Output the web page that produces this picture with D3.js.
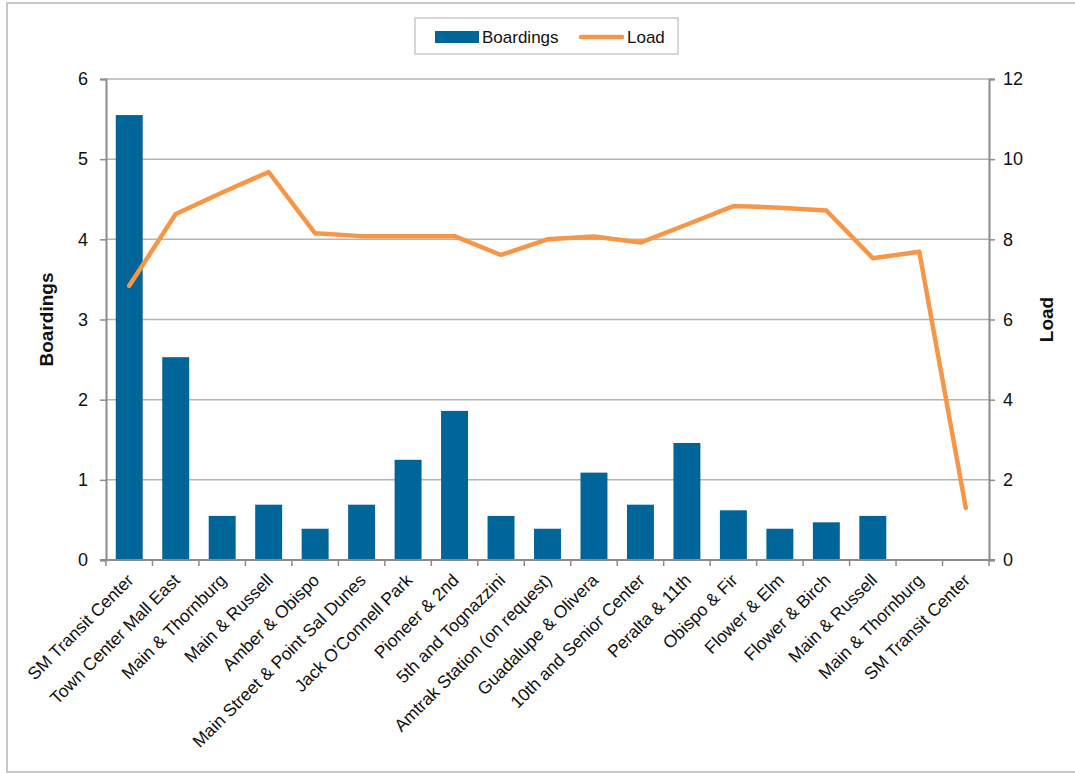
<!DOCTYPE html>
<html>
<head>
<meta charset="utf-8">
<script src="https://cdn.jsdelivr.net/npm/d3@7"></script>
<style>
  html, body { margin: 0; padding: 0; background: #fff; }
  svg { display: block; font-family: "Liberation Sans", Arial, sans-serif; }
</style>
</head>
<body>
<svg id="chart" width="1075" height="773"></svg>
<script>
// Stops along the route, in order of travel
const stops = [
  "SM Transit Center", "Town Center Mall East", "Main & Thornburg", "Main & Russell",
  "Amber & Obispo", "Main Street & Point Sal Dunes", "Jack O'Connell Park", "Pioneer & 2nd",
  "5th and Tognazzini", "Amtrak Station (on request)", "Guadalupe & Olivera",
  "10th and Senior Center", "Peralta & 11th", "Obispo & Fir", "Flower & Elm",
  "Flower & Birch", "Main & Russell", "Main & Thornburg", "SM Transit Center"
];
// Average boardings per stop (left axis)
const boardings = [5.55, 2.53, 0.55, 0.69, 0.39, 0.69, 1.25, 1.86, 0.55, 0.39,
                   1.09, 0.69, 1.46, 0.62, 0.39, 0.47, 0.55, 0, 0];
// Passenger load leaving each stop (right axis)
const load = [6.84, 8.63, 9.17, 9.68, 8.15, 8.08, 8.08, 8.08, 7.61, 8.0,
              8.07, 7.92, 8.37, 8.83, 8.79, 8.72, 7.53, 7.69, 1.3];
const leftTicks = [0, 1, 2, 3, 4, 5, 6];
const rightTicks = [0, 2, 4, 6, 8, 10, 12];

const barColor = "#006699";
const lineColor = "#F79646";
const gridColor = "#b4b4b4";
const axisColor = "#8c8c8c";

const svg = d3.select("#chart");
const plot = { left: 106, right: 989, top: 79, bottom: 560 };

// Outer chart frame
svg.append("rect")
  .attr("x", 7).attr("y", 3).attr("width", 1080).attr("height", 769)
  .attr("fill", "none").attr("stroke", "#c8c8c8").attr("stroke-width", 2);

// Scales
const x = d3.scaleBand()
  .domain(d3.range(stops.length))
  .range([plot.left, plot.right])
  .paddingInner(0.42).paddingOuter(0.21);
const yL = d3.scaleLinear().domain([0, 6]).range([plot.bottom, plot.top]);
const yR = d3.scaleLinear().domain([0, 12]).range([plot.bottom, plot.top]);

// Horizontal gridlines
svg.append("g")
  .selectAll("line")
  .data(leftTicks.slice(1))
  .join("line")
  .attr("x1", plot.left).attr("x2", plot.right)
  .attr("y1", d => yL(d)).attr("y2", d => yL(d))
  .attr("stroke", gridColor).attr("stroke-width", 1.5);

// Bars
svg.append("g")
  .selectAll("rect")
  .data(boardings)
  .join("rect")
  .attr("x", (d, i) => x(i))
  .attr("width", x.bandwidth())
  .attr("y", d => yL(d))
  .attr("height", d => plot.bottom - yL(d))
  .attr("fill", barColor);

// Load line
const line = d3.line()
  .x((d, i) => x(i) + x.bandwidth() / 2)
  .y(d => yR(d));
svg.append("path")
  .datum(load)
  .attr("d", line)
  .attr("fill", "none")
  .attr("stroke", lineColor)
  .attr("stroke-width", 4.5)
  .attr("stroke-linejoin", "round")
  .attr("stroke-linecap", "round");

// Left axis
const gL = svg.append("g")
  .attr("transform", `translate(${plot.left},0)`)
  .call(d3.axisLeft(yL).tickValues(leftTicks).tickSize(6).tickPadding(12).tickFormat(d3.format("d")));
// Right axis
const gR = svg.append("g")
  .attr("transform", `translate(${plot.right},0)`)
  .call(d3.axisRight(yR).tickValues(rightTicks).tickSize(6).tickPadding(8).tickFormat(d3.format("d")));
[gL, gR].forEach(g => {
  g.select(".domain").attr("stroke", axisColor).attr("stroke-width", 2);
  g.selectAll(".tick line").attr("stroke", axisColor).attr("stroke-width", 1.5);
  g.selectAll(".tick text").attr("font-size", 18).attr("fill", "#111")
    .attr("font-family", "Liberation Sans, Arial, sans-serif");
});

// Category axis: boundary ticks and rotated stop names
const gX = svg.append("g");
gX.append("line")
  .attr("x1", plot.left - 6).attr("x2", plot.right + 6)
  .attr("y1", plot.bottom).attr("y2", plot.bottom)
  .attr("stroke", axisColor).attr("stroke-width", 2);
const step = x.step();
const edge0 = x(0) - (step - x.bandwidth()) / 2;
gX.selectAll("line.tk")
  .data(d3.range(stops.length + 1))
  .join("line")
  .attr("class", "tk")
  .attr("x1", i => edge0 + i * step)
  .attr("x2", i => edge0 + i * step)
  .attr("y1", plot.bottom).attr("y2", plot.bottom + 6)
  .attr("stroke", axisColor).attr("stroke-width", 1.5);
gX.selectAll("text")
  .data(stops)
  .join("text")
  .attr("transform", (d, i) => `translate(${x(i) + x.bandwidth() / 2 + 1},${plot.bottom + 17}) rotate(-45)`)
  .attr("text-anchor", "end")
  .attr("dy", "0.35em")
  .attr("font-size", 17.5)
  .attr("fill", "#111")
  .text(d => d);

// Axis titles
svg.append("text")
  .attr("transform", `translate(53,${(plot.top + plot.bottom) / 2}) rotate(-90)`)
  .attr("text-anchor", "middle")
  .attr("font-size", 19).attr("font-weight", "bold").attr("fill", "#111")
  .text("Boardings");
svg.append("text")
  .attr("transform", `translate(1053,${(plot.top + plot.bottom) / 2}) rotate(-90)`)
  .attr("text-anchor", "middle")
  .attr("font-size", 19).attr("font-weight", "bold").attr("fill", "#111")
  .text("Load");

// Legend
const lg = svg.append("g");
lg.append("rect")
  .attr("x", 415).attr("y", 18).attr("width", 263).attr("height", 36)
  .attr("fill", "#fff").attr("stroke", "#c8c8c8").attr("stroke-width", 1.5);
lg.append("rect")
  .attr("x", 435).attr("y", 31).attr("width", 44).attr("height", 12)
  .attr("fill", barColor);
lg.append("text")
  .attr("x", 482).attr("y", 43).attr("font-size", 17).attr("fill", "#111")
  .text("Boardings");
lg.append("line")
  .attr("x1", 581).attr("x2", 622).attr("y1", 37).attr("y2", 37)
  .attr("stroke", lineColor).attr("stroke-width", 4.5).attr("stroke-linecap", "round");
lg.append("text")
  .attr("x", 627).attr("y", 43).attr("font-size", 17).attr("fill", "#111")
  .text("Load");
</script>
</body>
</html>
